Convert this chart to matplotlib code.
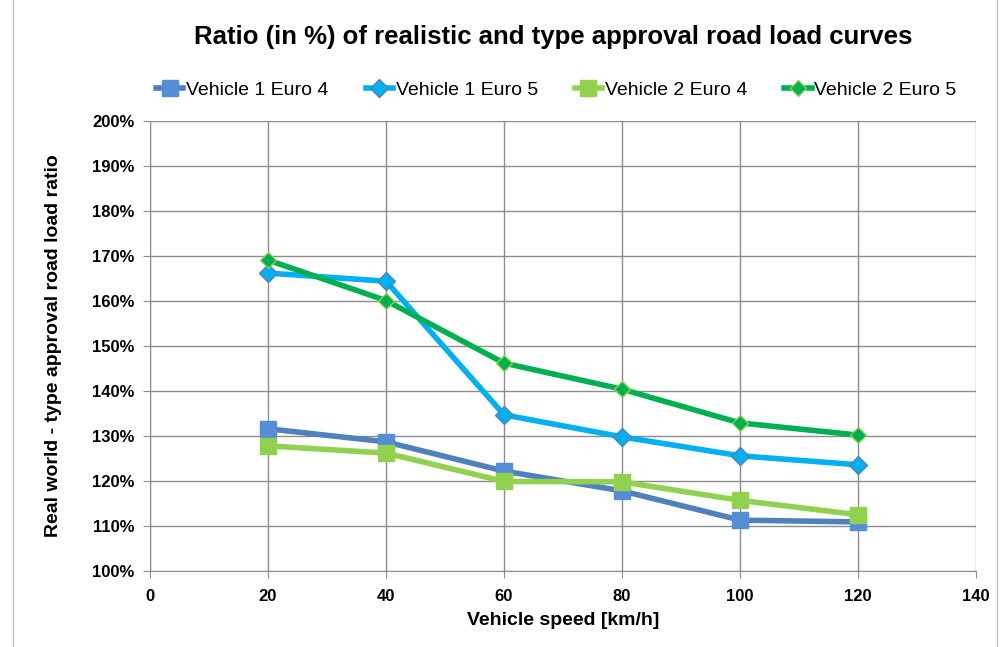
import matplotlib.pyplot as plt
from matplotlib.patches import Rectangle
from matplotlib.ticker import FuncFormatter, MultipleLocator

plt.rcParams['font.family'] = ['Liberation Sans', 'DejaVu Sans']

speed = [20, 40, 60, 80, 100, 120]
v1_euro4 = [131.6, 128.7, 122.2, 117.8, 111.3, 110.9]
v1_euro5 = [166.2, 164.4, 134.7, 129.8, 125.6, 123.6]
v2_euro4 = [127.8, 126.2, 119.9, 119.8, 115.7, 112.5]
v2_euro5 = [169.1, 160.1, 146.2, 140.4, 132.9, 130.2]

fig = plt.figure(figsize=(10, 6.47), dpi=100)
ax = fig.add_axes([0.15, 0.1175, 0.826, 0.6955])

ax.plot(speed, v1_euro4, color='#4F81BD', lw=4, marker='s', ms=11,
        mfc='#558ED5', mec='#558ED5', label='Vehicle 1 Euro 4', zorder=3)
ax.plot(speed, v1_euro5, color='#00B0F0', lw=4, marker='D', ms=9,
        mfc='#00B0F0', mec='#4F81BD', mew=1, label='Vehicle 1 Euro 5', zorder=3)
ax.plot(speed, v2_euro4, color='#92D050', lw=4, marker='s', ms=11,
        mfc='#92D050', mec='#92D050', label='Vehicle 2 Euro 4', zorder=3)
ax.plot(speed, v2_euro5, color='#00B050', lw=4, marker='D', ms=8,
        mfc='#00B050', mec='#92D050', mew=1, label='Vehicle 2 Euro 5', zorder=4)

ax.set_xlim(0, 140)
ax.set_ylim(100, 200)
ax.xaxis.set_major_locator(MultipleLocator(20))
ax.yaxis.set_major_locator(MultipleLocator(10))
ax.yaxis.set_major_formatter(FuncFormatter(lambda v, p: '%d%%' % v))
ax.grid(True, color='#8C8C8C', lw=1)
ax.set_axisbelow(True)
for s in ['top', 'right']:
    ax.spines[s].set_visible(False)
for s in ['left', 'bottom']:
    ax.spines[s].set_color('#8C8C8C')
ax.tick_params(axis='both', color='#8C8C8C', length=5, direction='out', labelsize=12, pad=8)
ax.tick_params(axis='y', pad=6)
for lab in ax.get_xticklabels() + ax.get_yticklabels():
    lab.set_fontweight('bold')

ax.set_xlabel('Vehicle speed [km/h]', fontsize=14, fontweight='bold', labelpad=6)
ax.set_ylabel('Real world - type approval road load ratio', fontsize=14, fontweight='bold', labelpad=22)
fig.text(0.553, 0.943, 'Ratio (in %) of realistic and type approval road load curves',
         ha='center', va='center', fontsize=18.5, fontweight='bold')

ax.legend(loc='center', bbox_to_anchor=(0.492, 1.069), ncol=4, frameon=False,
          fontsize=14, handlelength=1.4, handletextpad=0.15, columnspacing=1.9,
          borderaxespad=0, borderpad=0)

fig.patches.append(Rectangle((0.013, -0.01), 0.984, 1.02, transform=fig.transFigure,
                             fill=False, edgecolor='#BFBFBF', lw=1))

fig.savefig('out.png', dpi=100)
